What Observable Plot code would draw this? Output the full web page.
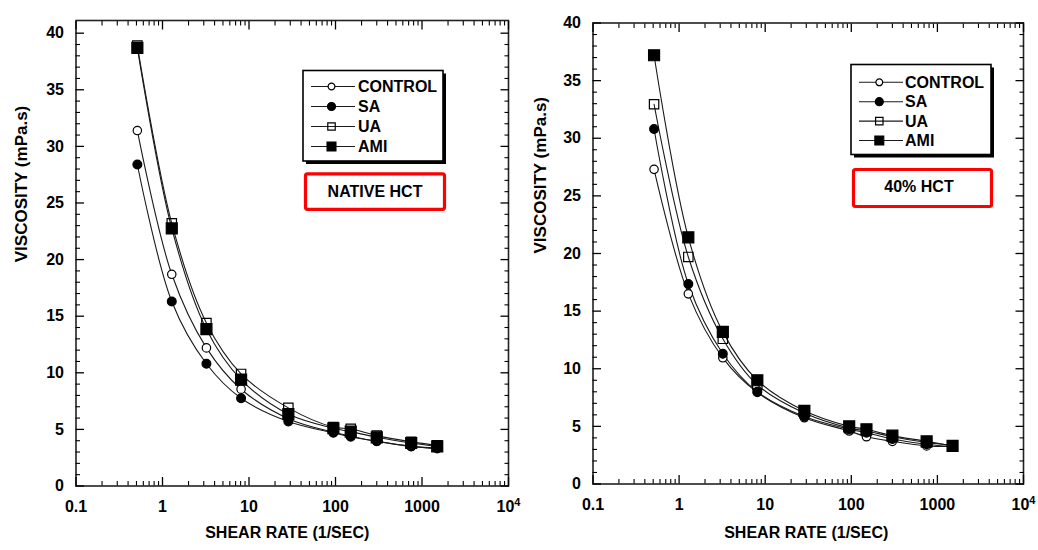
<!DOCTYPE html>
<html>
<head>
<meta charset="utf-8">
<script src="https://cdn.jsdelivr.net/npm/d3@7"></script>
<script src="https://cdn.jsdelivr.net/npm/@observablehq/plot@0.6"></script>
<style>
  html, body { margin: 0; padding: 0; background: #fff; }
  #wrap { position: relative; width: 1038px; height: 550px; overflow: hidden; background: #fff; }
  #wrap svg { position: absolute; top: 0; }
</style>
</head>
<body>
<div id="wrap"></div>
<script>
// ---------------- DATA ----------------
const shearRate = [0.512, 1.28, 3.22, 8.1, 28.5, 94.5, 150, 300, 750, 1500];
const seriesNames = ["CONTROL", "SA", "UA", "AMI"];

// Panel 1: NATIVE HCT
const nativeControl = [31.4, 18.7, 12.2, 8.55, 5.95, 4.75, 4.4, 3.95, 3.5, 3.3];
const nativeSA      = [28.4, 16.3, 10.8, 7.75, 5.7, 4.7, 4.35, 3.95, 3.5, 3.35];
const nativeUA      = [38.9, 23.2, 14.4, 9.9, 6.9, 5.2, 5.05, 4.45, 3.9, 3.6];
const nativeAMI     = [38.7, 22.75, 13.85, 9.4, 6.35, 5.1, 4.8, 4.3, 3.8, 3.5];

// Panel 2: 40% HCT
const hct40Control = [27.3, 16.5, 10.95, 7.95, 5.75, 4.6, 4.1, 3.7, 3.3, 3.25];
const hct40SA      = [30.8, 17.35, 11.3, 8.0, 5.85, 4.75, 4.45, 3.9, 3.45, 3.25];
const hct40UA      = [32.95, 19.7, 12.6, 8.6, 6.15, 4.85, 4.6, 4.1, 3.6, 3.35];
const hct40AMI     = [37.2, 21.4, 13.2, 9.0, 6.35, 5.0, 4.75, 4.2, 3.7, 3.3];

const panelLabels = ["NATIVE HCT", "40% HCT"];
const xTitle = "SHEAR RATE (1/SEC)";
const yTitle = "VISCOSITY (mPa.s)";

const xMajorTicks = [0.1, 1, 10, 100, 1000, 10000];
const xTickLabels = ["0.1", "1", "10", "100", "1000", "10\u2074"];
const xMinorTicks = [0.2, 0.3, 0.4, 0.5, 0.6, 0.7, 0.8, 0.9,
                     2, 3, 4, 5, 6, 7, 8, 9,
                     20, 30, 40, 50, 60, 70, 80, 90,
                     200, 300, 400, 500, 600, 700, 800, 900,
                     2000, 3000, 4000, 5000, 6000, 7000, 8000, 9000];
const yMajorTicks = [0, 5, 10, 15, 20, 25, 30, 35, 40];
const yMinorTicks = [1, 2, 3, 4, 6, 7, 8, 9, 11, 12, 13, 14, 16, 17, 18, 19,
                     21, 22, 23, 24, 26, 27, 28, 29, 31, 32, 33, 34, 36, 37, 38, 39];

// ---------------- STYLE ----------------
const FONT = "'Liberation Sans', Arial, Helvetica, sans-serif";
const markerStyle = {
  CONTROL: {symbol: "circle", fill: "white", r: 4.2, lr: 3.4},
  SA:      {symbol: "circle", fill: "black", r: 4.4, lr: 4.0},
  UA:      {symbol: "square", fill: "none",  r: 5.3, lr: 4.2},
  AMI:     {symbol: "square", fill: "black", r: 6.2, lr: 5.0}
};

function rows(valuesList) {
  return seriesNames.flatMap((s, i) =>
    shearRate.map((x, j) => ({series: s, rate: x, visc: valuesList[i][j]})));
}

function panel(cfg) {
  const data = rows(cfg.values);
  const xFmt = d => xTickLabels[xMajorTicks.indexOf(d)];
  const marks = [
    Plot.frame({stroke: "#222", strokeWidth: 1.6}),
    // inward minor / major ticks on all four sides
    Plot.axisY(yMinorTicks, {anchor: "left", tickSize: -4.5, text: null, label: null, strokeWidth: 1.1}),
    Plot.axisY(yMinorTicks, {anchor: "right", tickSize: -4.5, text: null, label: null, strokeWidth: 1.1}),
    Plot.axisY(yMajorTicks, {anchor: "left", tickSize: -8.5, text: null, label: null, strokeWidth: 1.3}),
    Plot.axisY(yMajorTicks, {anchor: "right", tickSize: -8.5, text: null, label: null, strokeWidth: 1.3}),
    Plot.axisY(yMajorTicks, {anchor: "left", tickSize: 0, tickPadding: 12, label: null,
      fontSize: 16, fontWeight: "bold"}),
    Plot.axisX(xMinorTicks, {anchor: "bottom", tickSize: -4.5, text: null, label: null, strokeWidth: 1.1}),
    Plot.axisX(xMinorTicks, {anchor: "top", tickSize: -4.5, text: null, label: null, strokeWidth: 1.1}),
    Plot.axisX(xMajorTicks, {anchor: "bottom", tickSize: -8.5, text: null, label: null, strokeWidth: 1.3}),
    Plot.axisX(xMajorTicks, {anchor: "top", tickSize: -8.5, text: null, label: null, strokeWidth: 1.3}),
    Plot.axisX(xMajorTicks, {anchor: "bottom", tickSize: 0, tickPadding: 15, label: null,
      tickFormat: xFmt, fontSize: 16, fontWeight: "bold"}),
    // axis titles
    Plot.text([xTitle], {frameAnchor: "bottom", dy: cfg.xTitleDy, dx: cfg.xTitleDx, text: d => d,
      fontSize: 16, fontWeight: "bold"}),
    Plot.text([yTitle], {frameAnchor: "left", dx: cfg.yTitleDx, dy: cfg.yTitleDy, rotate: -90, text: d => d,
      fontSize: 17, fontWeight: "bold"}),
    // curves
    Plot.line(data, {x: "rate", y: "visc", z: "series", curve: "catmull-rom",
      stroke: "#1a1a1a", strokeWidth: 1.1})
  ];
  for (const s of seriesNames) {
    const st = markerStyle[s];
    marks.push(Plot.dot(data.filter(d => d.series === s), {
      x: "rate", y: "visc", symbol: st.symbol, r: st.r,
      fill: st.fill, stroke: "black", strokeWidth: 1.2
    }));
  }
  const svg = Plot.plot({
    width: cfg.width, height: 550,
    marginLeft: cfg.ml, marginRight: cfg.mr, marginTop: cfg.mt, marginBottom: cfg.mb,
    x: {type: "log", domain: [0.1, 10000]},
    y: {domain: cfg.yDomain},
    style: {fontFamily: FONT, color: "black", background: "transparent", overflow: "visible"},
    marks
  });
  svg.style.left = cfg.left + "px";

  // render the "10⁴" tick label with a raised superscript
  d3.select(svg).selectAll("text").filter(function() { return this.textContent === "10\u2074"; })
    .each(function() {
      const t = d3.select(this);
      t.text(null);
      t.append("tspan").text("10");
      t.append("tspan").attr("dy", "-0.55em").attr("font-size", 11).text("4");
    });

  // in-plot legend box and panel label box
  const g = d3.select(svg).append("g").attr("font-family", FONT).attr("text-anchor", "start");
  const L = cfg.legend;
  g.append("rect").attr("x", L.x + 3).attr("y", L.y + 3).attr("width", L.w).attr("height", L.h).attr("fill", "black");
  g.append("rect").attr("x", L.x).attr("y", L.y).attr("width", L.w).attr("height", L.h)
    .attr("fill", "white").attr("stroke", "black").attr("stroke-width", 1.6);
  seriesNames.forEach((s, i) => {
    const y = L.rowY + i * L.rowStep;
    const st = markerStyle[s];
    g.append("line").attr("x1", L.lineX1).attr("x2", L.lineX2).attr("y1", y).attr("y2", y)
      .attr("stroke", "#1a1a1a").attr("stroke-width", 1.1);
    const sym = st.symbol === "circle" ? d3.symbolCircle : d3.symbolSquare;
    g.append("path").attr("d", d3.symbol(sym, Math.PI * st.lr * st.lr)())
      .attr("transform", `translate(${L.markX},${y})`)
      .attr("fill", st.fill).attr("stroke", "black").attr("stroke-width", 1.2);
    g.append("text").attr("x", L.textX).attr("y", y).attr("dy", "0.36em").attr("text-anchor", "start")
      .attr("font-size", 16).attr("font-weight", "bold").attr("fill", "black").text(s);
  });
  const R = cfg.redBox;
  g.append("rect").attr("x", R.x).attr("y", R.y).attr("width", R.w).attr("height", R.h).attr("rx", 2)
    .attr("fill", "white").attr("stroke", "#ff0000").attr("stroke-width", 3.2);
  g.append("text").attr("x", R.tx).attr("y", R.ty).attr("dy", "0.36em").attr("text-anchor", "middle")
    .attr("font-size", 16).attr("font-weight", "bold").attr("fill", "black").text(cfg.label);
  return svg;
}

const wrap = document.getElementById("wrap");
wrap.appendChild(panel({
  left: 0, width: 519, ml: 75.5, mr: 11, mt: 20, mb: 64.5, yDomain: [0, 41.12],
  values: [nativeControl, nativeSA, nativeUA, nativeAMI],
  label: panelLabels[0],
  xTitleDy: 51.5, xTitleDx: -5, yTitleDx: -54, yTitleDy: 9,
  legend: {x: 303, y: 70.5, w: 140, h: 90.5, rowY: 86.5, rowStep: 20, lineX1: 311, lineX2: 355, markX: 331.5, textX: 358},
  redBox: {x: 305.5, y: 173.8, w: 139, h: 35.5, tx: 375, ty: 191.7}
}));
wrap.appendChild(panel({
  left: 519, width: 519, ml: 73.5, mr: 15, mt: 22.5, mb: 66.5, yDomain: [0, 40],
  values: [hct40Control, hct40SA, hct40UA, hct40AMI],
  label: panelLabels[1],
  xTitleDy: 53.5, xTitleDx: -2, yTitleDx: -52, yTitleDy: 0,
  legend: {x: 332, y: 64.5, w: 140, h: 90, rowY: 82.3, rowStep: 19.4, lineX1: 340, lineX2: 384, markX: 360.3, textX: 386},
  redBox: {x: 334.5, y: 169.5, w: 138, h: 37, tx: 400, ty: 186}
}));
</script>
</body>
</html>
